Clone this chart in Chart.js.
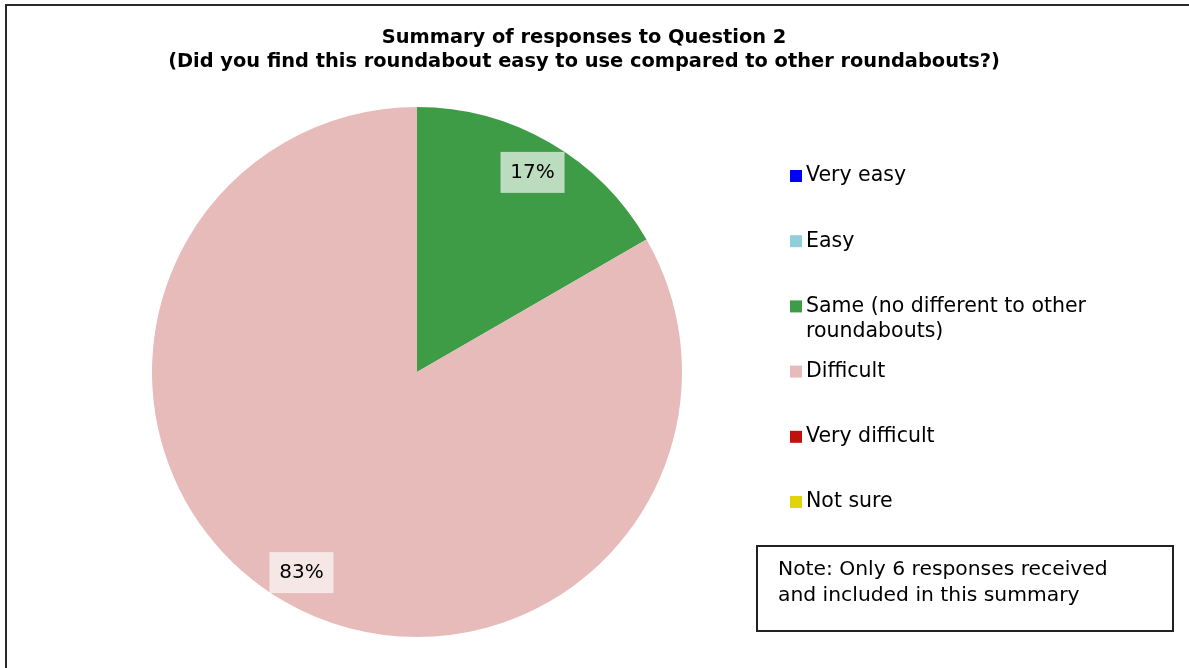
<!DOCTYPE html>
<html>
<head>
<meta charset="utf-8">
<script src="https://cdn.jsdelivr.net/npm/chart.js@4"></script>
<style>
    body { margin: 0; background: #fff; }
    #wrap { width: 1189px; height: 668px; }
</style>
</head>
<body>
<div id="wrap"><canvas id="pie" width="1189" height="668"></canvas></div>
<script>
const titleLines = ["Summary of responses to Question 2", "(Did you find this roundabout easy to use compared to other roundabouts?)"];
const categories = ["Very easy", "Easy", "Same (no different to other roundabouts)", "Difficult", "Very difficult", "Not sure"];
const legendLines = [["Very easy"], ["Easy"], ["Same (no different to other", "roundabouts)"], ["Difficult"], ["Very difficult"], ["Not sure"]];
const responses = [0, 0, 1, 5, 0, 0];
const sliceColors = ["#0000FF", "#92CDDC", "#3E9C47", "#E6BBBA", "#C0110F", "#E0D40A"];
const noteLines = ["Note: Only 6 responses received", "and included in this summary"];

const FONT = "'DejaVu Sans', sans-serif";

// frame, title, legend and note box
const decorPlugin = {
    id: "decor",
    afterDraw(chart) {
        const ctx = chart.ctx;
        ctx.save();
        // outer frame (only top and left visible)
        ctx.strokeStyle = "#2a2a2a";
        ctx.lineWidth = 2;
        ctx.beginPath();
        ctx.moveTo(6, 700);
        ctx.lineTo(6, 5);
        ctx.lineTo(1200, 5);
        ctx.stroke();

        // title
        ctx.fillStyle = "#000";
        ctx.textAlign = "center";
        ctx.textBaseline = "middle";
        ctx.font = "bold 19.4px " + FONT;
        ctx.fillText(titleLines[0], 584, 38);
        ctx.fillText(titleLines[1], 584, 62);

        // legend
        ctx.textAlign = "left";
        ctx.font = "20.5px " + FONT;
        let y = 176;
        for (let i = 0; i < categories.length; i++) {
            ctx.fillStyle = sliceColors[i];
            ctx.fillRect(790, y - 6, 12, 12);
            ctx.fillStyle = "#000";
            legendLines[i].forEach((line, j) => {
                ctx.fillText(line, 806, y + j * 25);
            });
            y += 65.2;
        }

        // note box
        ctx.strokeStyle = "#222";
        ctx.lineWidth = 2;
        ctx.strokeRect(757, 546, 416, 85);
        ctx.fillStyle = "#000";
        ctx.font = "20.3px " + FONT;
        ctx.fillText(noteLines[0], 778, 570);
        ctx.fillText(noteLines[1], 778, 596);
        ctx.restore();
    }
};

// percentage labels inside the slices
const pctPlugin = {
    id: "pct",
    afterDatasetsDraw(chart) {
        const ctx = chart.ctx;
        const meta = chart.getDatasetMeta(0);
        const total = responses.reduce((a, b) => a + b, 0);
        ctx.save();
        ctx.font = "20px " + FONT;
        ctx.textAlign = "center";
        ctx.textBaseline = "middle";
        meta.data.forEach((arc, i) => {
            if (!responses[i]) return;
            const p = arc.getProps(["x", "y", "startAngle", "endAngle", "outerRadius"], true);
            const mid = (p.startAngle + p.endAngle) / 2;
            const r = p.outerRadius * 0.872;
            const cx = p.x + Math.cos(mid) * r;
            const cy = p.y + Math.sin(mid) * r;
            const txt = Math.round(responses[i] / total * 100) + "%";
            ctx.fillStyle = "rgba(255,255,255,0.65)";
            ctx.fillRect(cx - 32, cy - 20, 64, 41);
            ctx.fillStyle = "#000";
            ctx.fillText(txt, cx, cy + 1);
        });
        ctx.restore();
    }
};

new Chart("pie", {
    type: "pie",
    data: {
        labels: categories,
        datasets: [{
            data: responses,
            backgroundColor: sliceColors,
            borderWidth: 0
        }]
    },
    options: {
        responsive: false,
        animation: false,
        layout: { padding: { left: 152, right: 507, top: 107, bottom: 31 } },
        plugins: {
            legend: { display: false },
            title: { display: false },
            tooltip: { enabled: false }
        }
    },
    plugins: [pctPlugin, decorPlugin]
});
</script>
</body>
</html>
